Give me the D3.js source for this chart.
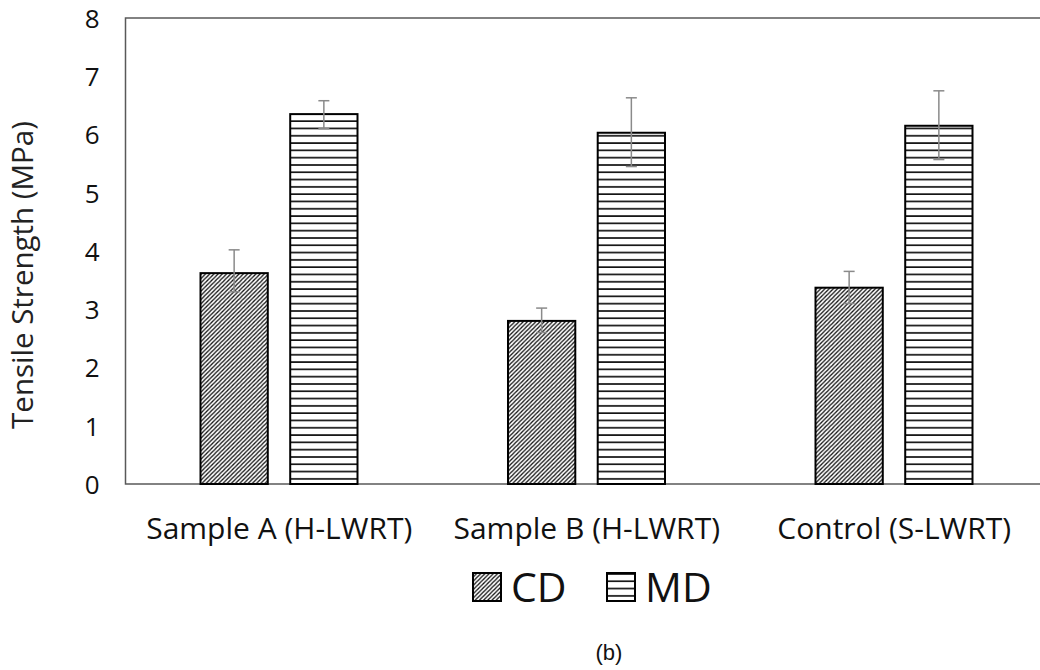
<!DOCTYPE html>
<html>
<head>
<meta charset="utf-8">
<script src="https://cdn.jsdelivr.net/npm/d3@7"></script>
<style>
  body { margin: 0; background: #fff; }
  text { font-family: "Open Sans", sans-serif; }
</style>
</head>
<body>
<div id="graph"></div>
<script>
// data
var categories = ["Sample A (H-LWRT)", "Sample B (H-LWRT)", "Control (S-LWRT)"];
var seriesNames = ["CD", "MD"];
var cdValues = [3.62, 2.80, 3.37];
var cdErrLow = [3.30, 2.60, 3.10];
var cdErrHigh = [4.02, 3.02, 3.65];
var mdValues = [6.35, 6.03, 6.15];
var mdErrLow = [6.10, 5.45, 5.57];
var mdErrHigh = [6.58, 6.63, 6.75];
var yTicks = [0, 1, 2, 3, 4, 5, 6, 7, 8];

var svg = d3.select('#graph').append("svg")
  .attr('width', 1040)
  .attr('height', 670);

var margin = {top: 18, left: 125.5, right: -8, bottom: 186};
var width = 1040 - margin.left - margin.right,
    height = 670 - margin.top - margin.bottom;

// fill patterns
var defs = svg.append("defs");
var hatch = defs.append("pattern")
  .attr("id", "hatchCD")
  .attr("patternUnits", "userSpaceOnUse")
  .attr("width", 4.2).attr("height", 4.2);
hatch.append("rect").attr("width", 4.2).attr("height", 4.2).attr("fill", "#fff");
hatch.append("path")
  .attr("d", "M0,4.2 L4.2,0 M-1,1 L1,-1 M3.2,5.2 L5.2,3.2")
  .attr("stroke", "#111").attr("stroke-width", 1.3);

var stripes = defs.append("pattern")
  .attr("id", "stripesMD")
  .attr("patternUnits", "userSpaceOnUse")
  .attr("width", 10).attr("height", 7.3);
stripes.append("rect").attr("width", 10).attr("height", 7.3).attr("fill", "#fff");
stripes.append("line")
  .attr("x1", 0).attr("x2", 10).attr("y1", 1).attr("y2", 1)
  .attr("stroke", "#111").attr("stroke-width", 1.7);

var g = svg.append("g").attr("transform", "translate(" + margin.left + "," + margin.top + ")");

var x0 = d3.scaleBand().domain(categories).range([0, width]);
var x1 = d3.scaleBand().domain(seriesNames).range([75, 232]).paddingInner(0.25);
var y = d3.scaleLinear().domain([0, 8]).range([height, 0]);

// plot box
g.append("rect")
  .attr("x", 0).attr("y", 0)
  .attr("width", width).attr("height", height)
  .attr("fill", "none").attr("stroke", "#595959").attr("stroke-width", 1.5);

var rows = categories.map(function(c, i) {
  return [
    {cat: c, s: "CD", v: cdValues[i], lo: cdErrLow[i], hi: cdErrHigh[i]},
    {cat: c, s: "MD", v: mdValues[i], lo: mdErrLow[i], hi: mdErrHigh[i]}
  ];
});
var flat = [].concat.apply([], rows);

function cx(d) { return x0(d.cat) + x1(d.s) + x1.bandwidth() / 2; }

g.selectAll(".bar")
  .data(flat)
  .enter().append("rect")
  .attr("class", "bar")
  .attr("x", function(d) { return x0(d.cat) + x1(d.s); })
  .attr("width", x1.bandwidth())
  .attr("y", function(d) { return y(d.v); })
  .attr("height", function(d) { return y(0) - y(d.v); })
  .attr("fill", function(d) { return d.s == "CD" ? "url(#hatchCD)" : "url(#stripesMD)"; })
  .attr("stroke", "#000").attr("stroke-width", 2);

// error bars
var err = g.selectAll(".err").data(flat).enter().append("g").attr("class", "err");
err.append("line")
  .attr("x1", cx).attr("x2", cx)
  .attr("y1", function(d) { return y(d.lo); })
  .attr("y2", function(d) { return y(d.hi); });
err.append("line")
  .attr("x1", function(d) { return cx(d) - 5.5; })
  .attr("x2", function(d) { return cx(d) + 5.5; })
  .attr("y1", function(d) { return y(d.hi); })
  .attr("y2", function(d) { return y(d.hi); });
err.append("line")
  .attr("x1", function(d) { return cx(d) - 5.5; })
  .attr("x2", function(d) { return cx(d) + 5.5; })
  .attr("y1", function(d) { return y(d.lo); })
  .attr("y2", function(d) { return y(d.lo); });
err.selectAll("line").attr("stroke", "#8a8a8a").attr("stroke-width", 1.5);

// y axis ticks
var yAxis = g.append("g")
  .call(d3.axisLeft(y).tickValues(yTicks).tickSize(0).tickPadding(26));
yAxis.select(".domain").remove();
yAxis.selectAll("text")
  .style("font-size", "26px").attr("fill", "#111").attr("dy", "0.36em");

// x axis labels
var xAxis = g.append("g")
  .attr("transform", "translate(0," + height + ")")
  .call(d3.axisBottom(x0).tickSize(0));
xAxis.select(".domain").remove();
xAxis.selectAll("text")
  .attr("y", 55).attr("dy", null)
  .style("font-size", "30px").attr("fill", "#111");

// axis title
svg.append("text")
  .attr("transform", "translate(33,275) rotate(-90)")
  .attr("text-anchor", "middle")
  .style("font-size", "29.5px").attr("fill", "#222")
  .text("Tensile Strength (MPa)");

// legend
var legend = svg.append("g").attr("transform", "translate(473,573)");
var leg = legend.selectAll(".leg").data(seriesNames).enter().append("g")
  .attr("transform", function(d, i) { return "translate(" + (i * 134) + ",0)"; });
leg.append("rect")
  .attr("x", 0).attr("y", 0).attr("width", 28).attr("height", 28)
  .attr("fill", function(d) { return d == "CD" ? "url(#hatchCD)" : "url(#stripesMD)"; })
  .attr("stroke", "#000").attr("stroke-width", 2);
leg.append("text")
  .attr("x", 38).attr("y", 29)
  .style("font-size", "41px").attr("fill", "#111")
  .text(function(d) { return d; });

// caption
svg.append("text")
  .attr("x", 609).attr("y", 660)
  .attr("text-anchor", "middle")
  .style("font-family", "Liberation Sans, Arial, sans-serif")
  .style("font-size", "22px").attr("fill", "#111")
  .text("(b)");
</script>
</body>
</html>
